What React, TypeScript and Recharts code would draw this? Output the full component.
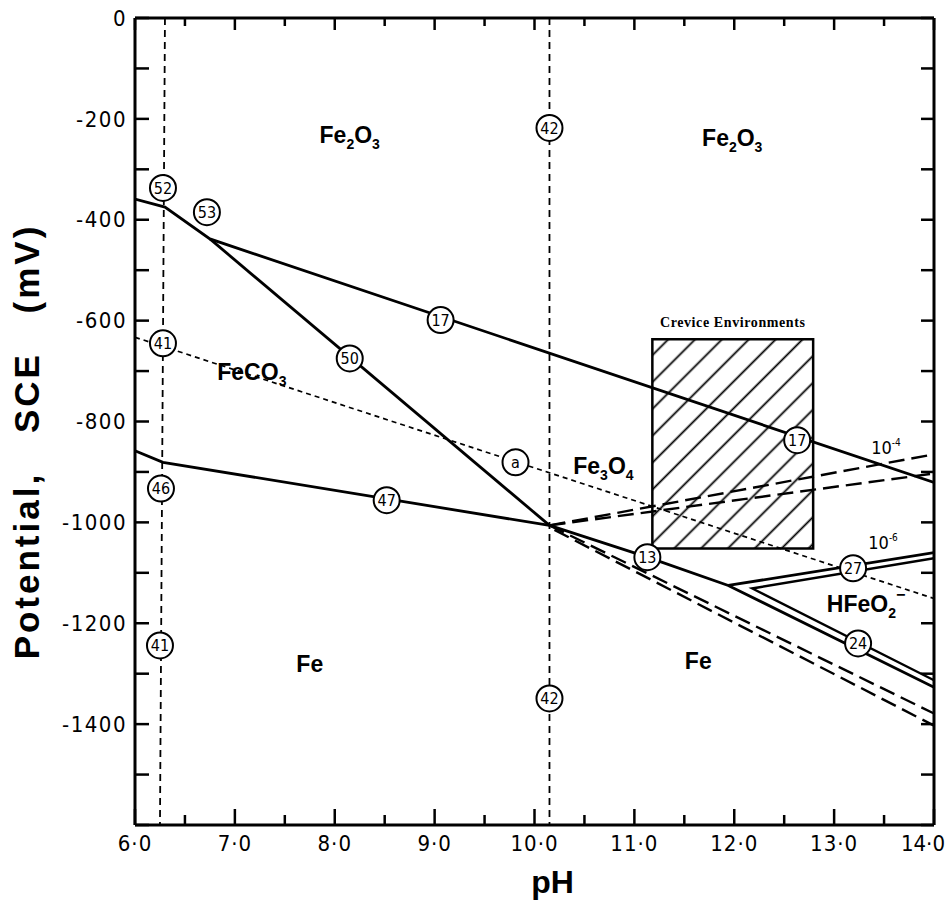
import { ComposedChart, Line, Scatter, XAxis, YAxis, ReferenceArea } from "recharts";

// axis ticks
const phTicks = [6, 6.5, 7, 7.5, 8, 8.5, 9, 9.5, 10, 10.5, 11, 11.5, 12, 12.5, 13, 13.5, 14];
const mvTicks = [0, -100, -200, -300, -400, -500, -600, -700, -800, -900, -1000, -1100, -1200, -1300, -1400, -1500, -1600];
const mvLabelled = [0, -200, -400, -600, -800, -1000, -1200, -1400];

// solid boundaries
const line17 = [{ pH: 6.0, E: -359 }, { pH: 6.3, E: -375 }, { pH: 6.75, E: -438 }, { pH: 14.0, E: -921 }];
const line50 = [{ pH: 6.75, E: -438 }, { pH: 10.15, E: -1006 }];
const line47 = [{ pH: 6.0, E: -858 }, { pH: 6.28, E: -881 }, { pH: 10.15, E: -1006 }];
const line13 = [{ pH: 10.15, E: -1006 }, { pH: 11.13, E: -1069 }, { pH: 11.94, E: -1125 }, { pH: 14.0, E: -1327 }];
const line27 = [{ pH: 11.94, E: -1125 }, { pH: 14.0, E: -1060 }];
const line106 = [{ pH: 14.0, E: -1071 }, { pH: 12.18, E: -1131 }, { pH: 14.0, E: -1313 }];

// FeCO3 boundary (fine dashes)
const lineFeCO3 = [{ pH: 6.0, E: -633 }, { pH: 14.0, E: -1151 }];

// concentration lines (long dashes)
const dashUp1 = [{ pH: 10.15, E: -1006 }, { pH: 14.0, E: -865 }];
const dashUp2 = [{ pH: 10.15, E: -1006 }, { pH: 14.0, E: -903 }];
const dashDown1 = [{ pH: 10.15, E: -1006 }, { pH: 14.0, E: -1379 }];
const dashDown2 = [{ pH: 10.2, E: -1015 }, { pH: 14.0, E: -1403 }];

// vertical pH lines
const vert1 = [{ pH: 6.3, E: 0 }, { pH: 6.25, E: -1600 }];
const vert2 = [{ pH: 10.15, E: 0 }, { pH: 10.15, E: -1600 }];

// crevice box
const crevicePH = [11.18, 12.79];
const creviceE = [-1052, -637];

// numbered circles
const markers = [
  { pH: 6.28, E: -337, label: "52" },
  { pH: 6.72, E: -385, label: "53" },
  { pH: 6.28, E: -645, label: "41" },
  { pH: 6.26, E: -933, label: "46" },
  { pH: 6.25, E: -1244, label: "41" },
  { pH: 10.15, E: -218, label: "42" },
  { pH: 10.15, E: -1349, label: "42" },
  { pH: 9.06, E: -599, label: "17" },
  { pH: 8.15, E: -675, label: "50" },
  { pH: 8.52, E: -956, label: "47" },
  { pH: 9.81, E: -881, label: "a" },
  { pH: 12.63, E: -837, label: "17" },
  { pH: 11.13, E: -1069, label: "13" },
  { pH: 13.19, E: -1091, label: "27" },
  { pH: 13.24, E: -1240, label: "24" },
];

// region names: [main, sub1, main2, sub2, sup]
const regions = [
  { pH: 8.15, E: -232, parts: ["Fe", "2", "O", "3", ""] },
  { pH: 11.98, E: -238, parts: ["Fe", "2", "O", "3", ""] },
  { pH: 7.17, E: -702, parts: ["FeCO", "3", "", "", ""] },
  { pH: 10.69, E: -889, parts: ["Fe", "3", "O", "4", ""] },
  { pH: 7.75, E: -1280, parts: ["Fe", "", "", "", ""] },
  { pH: 11.64, E: -1274, parts: ["Fe", "", "", "", ""] },
  { pH: 13.32, E: -1161, parts: ["HFeO", "2", "", "", "−"] },
];

const concLabels = [
  { pH: 13.52, E: -851, base: "10", exp: "-4" },
  { pH: 13.49, E: -1040, base: "10", exp: "-6" },
];

const narrow = "'Liberation Sans Narrow', 'Arial Narrow', 'DejaVu Sans Condensed', sans-serif";
const bold = "'Liberation Sans', Arial, Helvetica, sans-serif";

const fmtPh = (v: number) => `${Math.floor(v)}·0`;

const BottomTick = (props: any) => {
  const { x, y, payload } = props;
  const major = Number.isInteger(payload.value);
  const last = payload.value === 14;
  return (
    <g>
      <line x1={x} y1={y} x2={x} y2={y - (major ? 16 : 10)} stroke="#000" strokeWidth={2.5} />
      {major && (
        <text
          x={last ? x + 11 : x}
          y={y + 26}
          textAnchor={last ? "end" : "middle"}
          fontSize={22}
          letterSpacing={last ? 0 : 1}
          fontFamily={narrow}
          fill="#000"
        >
          {fmtPh(payload.value)}
        </text>
      )}
    </g>
  );
};

const TopTick = (props: any) => {
  const { x, y, payload } = props;
  const major = Number.isInteger(payload.value);
  return <line x1={x} y1={y} x2={x} y2={y + (major ? 12 : 8)} stroke="#000" strokeWidth={2.5} />;
};

const LeftTick = (props: any) => {
  const { x, y, payload } = props;
  const show = mvLabelled.includes(payload.value);
  return (
    <g>
      <line x1={x} y1={y} x2={x + 14} y2={y} stroke="#000" strokeWidth={2.5} />
      {show && (
        <text x={x - 8} y={y} dy="0.35em" textAnchor="end" fontSize={22} letterSpacing={1.5} fontFamily={narrow} fill="#000">
          {payload.value}
        </text>
      )}
    </g>
  );
};

const RightTick = (props: any) => {
  const { x, y } = props;
  return <line x1={x} y1={y} x2={x - 13} y2={y} stroke="#000" strokeWidth={2.5} />;
};

const Marker = (props: any) => {
  const { cx, cy, payload } = props;
  return (
    <g>
      <circle cx={cx} cy={cy} r={13} fill="#fff" stroke="#000" strokeWidth={2} />
      <text x={cx} y={cy} dy="0.36em" textAnchor="middle" fontSize={16} fontFamily={narrow} fill="#000">
        {payload.label}
      </text>
    </g>
  );
};

const RegionText = (props: any) => {
  const { cx, cy, payload } = props;
  const [a, s1, b, s2, sup] = payload.parts;
  return (
    <text x={cx} y={cy} dy="0.35em" textAnchor="middle" fontSize={23} fontWeight="bold" fontFamily={bold} fill="#000">
      {a}
      {s1 && <tspan fontSize={14} dy={6}>{s1}</tspan>}
      {b && <tspan dy={-6}>{b}</tspan>}
      {s2 && <tspan fontSize={14} dy={6}>{s2}</tspan>}
      {sup && <tspan fontSize={16} dy={-18}>{sup}</tspan>}
    </text>
  );
};

const ConcText = (props: any) => {
  const { cx, cy, payload } = props;
  return (
    <text x={cx} y={cy} dy="0.35em" textAnchor="middle" fontSize={18} fontFamily={narrow} fill="#000">
      {payload.base}
      <tspan fontSize={10} dy={-8}>{payload.exp}</tspan>
    </text>
  );
};

const solid = { stroke: "#000", strokeWidth: 2.8, dot: false, isAnimationActive: false, type: "linear" as const };
const longDash = { ...solid, strokeWidth: 2.4, strokeDasharray: "16 7" };

export default function App() {
  return (
    <div style={{ position: "absolute", left: 0, top: 0, background: "#fff" }}>
      <ComposedChart width={947} height={913} margin={{ top: 0, right: 0, bottom: 0, left: 0 }}>
        <defs>
          <pattern id="hatch" patternUnits="userSpaceOnUse" width={19} height={19} patternTransform="rotate(45)">
            <line x1={9.5} y1={0} x2={9.5} y2={19} stroke="#000" strokeWidth={1.8} />
          </pattern>
        </defs>
        <XAxis
          type="number"
          dataKey="pH"
          domain={[6, 14]}
          ticks={phTicks}
          interval={0}
          height={88}
          tickSize={0}
          tickMargin={0}
          tickLine={false}
          axisLine={{ stroke: "#000", strokeWidth: 3 }}
          tick={<BottomTick />}
          allowDataOverflow
          label={{
            content: (p: any) => (
              <text
                x={p.viewBox.x + p.viewBox.width / 2 + 18}
                y={p.viewBox.y + 68}
                textAnchor="middle"
                fontSize={32}
                fontWeight="bold"
                fontFamily={bold}
                fill="#000"
              >
                pH
              </text>
            ),
          }}
        />
        <XAxis
          xAxisId="top"
          orientation="top"
          type="number"
          dataKey="pH"
          domain={[6, 14]}
          ticks={phTicks}
          interval={0}
          height={18}
          tickSize={0}
          tickMargin={0}
          tickLine={false}
          axisLine={{ stroke: "#000", strokeWidth: 3 }}
          tick={<TopTick />}
          allowDataOverflow
        />
        <YAxis
          type="number"
          dataKey="E"
          domain={[-1600, 0]}
          ticks={mvTicks}
          interval={0}
          width={135}
          tickSize={0}
          tickMargin={0}
          tickLine={false}
          axisLine={{ stroke: "#000", strokeWidth: 3 }}
          tick={<LeftTick />}
          allowDataOverflow
          label={{
            content: (p: any) => {
              const cx = p.viewBox.x + 27;
              const cy = p.viewBox.y + p.viewBox.height / 2 + 20;
              return (
                <text
                  x={cx}
                  y={cy}
                  dy="0.35em"
                  transform={`rotate(-90 ${cx} ${cy})`}
                  textAnchor="middle"
                  fontSize={35}
                  fontWeight="bold"
                  fontFamily={bold}
                  letterSpacing={3}
                  wordSpacing={26}
                  fill="#000"
                >
                  Potential, SCE (mV)
                </text>
              );
            },
          }}
        />
        <YAxis
          yAxisId="right"
          orientation="right"
          type="number"
          dataKey="E"
          domain={[-1600, 0]}
          ticks={mvTicks}
          interval={0}
          width={13}
          tickSize={0}
          tickMargin={0}
          tickLine={false}
          axisLine={{ stroke: "#000", strokeWidth: 3 }}
          tick={<RightTick />}
          allowDataOverflow
        />

        <ReferenceArea
          x1={crevicePH[0]}
          x2={crevicePH[1]}
          y1={creviceE[0]}
          y2={creviceE[1]}
          fill="url(#hatch)"
          fillOpacity={1}
          stroke="#000"
          strokeWidth={2.5}
          label={{
            value: "Crevice Environments",
            position: "top",
            offset: 12,
            fontSize: 14,
            fontWeight: "bold",
            fontFamily: "'Liberation Serif', 'Times New Roman', serif",
            letterSpacing: 0.6,
            fill: "#000",
          }}
        />

        <Line data={vert1} dataKey="E" {...solid} strokeWidth={1.8} strokeDasharray="7 5" />
        <Line data={vert2} dataKey="E" {...solid} strokeWidth={1.8} strokeDasharray="7 5" />
        <Line data={lineFeCO3} dataKey="E" {...solid} strokeWidth={1.7} strokeDasharray="5 4" />
        <Line data={line17} dataKey="E" {...solid} />
        <Line data={line50} dataKey="E" {...solid} />
        <Line data={line47} dataKey="E" {...solid} />
        <Line data={line13} dataKey="E" {...solid} />
        <Line data={line27} dataKey="E" {...solid} />
        <Line data={line106} dataKey="E" {...solid} strokeWidth={2.4} />
        <Line data={dashUp1} dataKey="E" {...longDash} />
        <Line data={dashUp2} dataKey="E" {...longDash} />
        <Line data={dashDown1} dataKey="E" {...longDash} />
        <Line data={dashDown2} dataKey="E" {...longDash} />

        <Scatter data={regions} dataKey="E" shape={<RegionText />} isAnimationActive={false} />
        <Scatter data={concLabels} dataKey="E" shape={<ConcText />} isAnimationActive={false} />
        <Scatter data={markers} dataKey="E" shape={<Marker />} isAnimationActive={false} />
      </ComposedChart>
    </div>
  );
}
